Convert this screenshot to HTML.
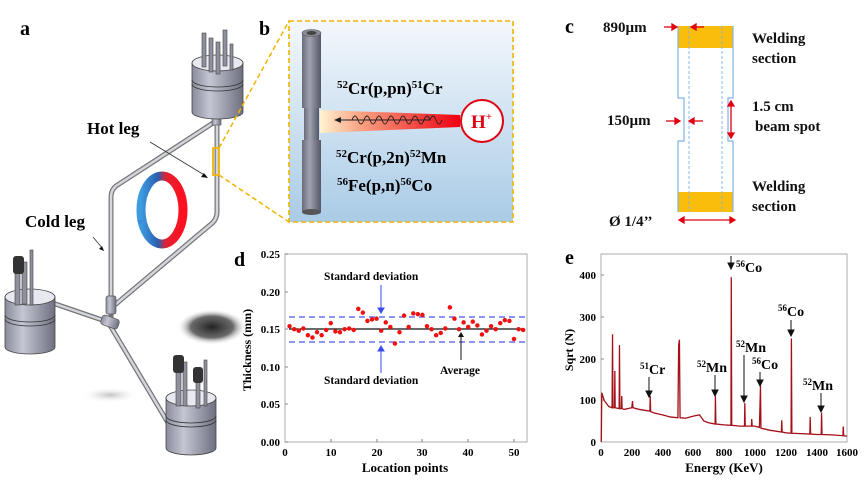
<!DOCTYPE html>
<html><head><meta charset="utf-8"><style>
html,body{margin:0;padding:0;background:#fff;}
svg{display:block;font-family:"Liberation Serif",serif;font-weight:bold;}
</style></head><body>
<svg width="866" height="481" viewBox="0 0 866 481" xmlns="http://www.w3.org/2000/svg">
<defs>
<linearGradient id="cyl" x1="0" x2="1" y1="0" y2="0"><stop offset="0" stop-color="#8a8c9c"/><stop offset="0.35" stop-color="#c4c6d2"/><stop offset="1" stop-color="#6e7080"/></linearGradient>
<linearGradient id="bbg" x1="0" x2="0" y1="0" y2="1"><stop offset="0" stop-color="#f4f8fc"/><stop offset="1" stop-color="#a9cbe6"/></linearGradient>
<linearGradient id="ring" x1="0" x2="1"><stop offset="0" stop-color="#3d9ce0"/><stop offset="0.4" stop-color="#2a5fb0"/><stop offset="0.6" stop-color="#e02030"/><stop offset="1" stop-color="#ff1020"/></linearGradient>
<linearGradient id="beam" x1="0" x2="1"><stop offset="0" stop-color="#fff3d0"/><stop offset="0.3" stop-color="#f8a080"/><stop offset="1" stop-color="#f00010"/></linearGradient>
<linearGradient id="tube" x1="0" x2="1"><stop offset="0" stop-color="#6a6c78"/><stop offset="0.4" stop-color="#a0a2b0"/><stop offset="1" stop-color="#555766"/></linearGradient>
<radialGradient id="shad"><stop offset="0" stop-color="#222"/><stop offset="0.6" stop-color="#444" stop-opacity="0.8"/><stop offset="1" stop-color="#fff" stop-opacity="0"/></radialGradient>
<radialGradient id="shad2"><stop offset="0" stop-color="#999" stop-opacity="0.6"/><stop offset="1" stop-color="#fff" stop-opacity="0"/></radialGradient>
</defs>

<!-- Panel a -->
<text x="20" y="35" font-size="20">a</text>
<ellipse cx="212" cy="327" rx="35" ry="18" fill="url(#shad)"/>
<ellipse cx="110" cy="395" rx="30" ry="8" fill="url(#shad2)"/>
<g fill="none" stroke-linecap="round">
<path d="M213 123 L116 186 Q111 190 111 197 L111 298" stroke="#777" stroke-width="5"/>
<path d="M213 123 L116 186 Q111 190 111 197 L111 298" stroke="#d4d6de" stroke-width="2.5"/>
<path d="M217 122 L217 212 Q217 220 210 225 L116 304" stroke="#777" stroke-width="5"/>
<path d="M217 122 L217 212 Q217 220 210 225 L116 304" stroke="#d4d6de" stroke-width="2.5"/>
<path d="M32 296 L108 322 L180 443" stroke="#777" stroke-width="5"/>
<path d="M32 296 L108 322 L180 443" stroke="#d4d6de" stroke-width="2.5"/>
<path d="M111 298 L111 322" stroke="#777" stroke-width="5"/>
</g>
<rect x="106" y="296" width="10" height="18" rx="2" fill="url(#cyl)" stroke="#555" stroke-width="0.7"/>
<rect x="101" y="317" width="18" height="10" rx="3" fill="url(#cyl)" stroke="#555" stroke-width="0.7" transform="rotate(20 110 322)"/>
<rect x="212" y="115" width="9" height="10" fill="url(#cyl)" stroke="#555" stroke-width="0.6"/>
<g stroke="#444" stroke-width="0.8">
<path d="M192 63 L192 112 A25.5 7 0 0 0 243 112 L243 63 Z" fill="url(#cyl)"/>
<ellipse cx="217.5" cy="63" rx="25.5" ry="8" fill="#e8e9f0"/>
<path d="M192 80 A25.5 7 0 0 0 243 80 M192 84 A25.5 7 0 0 0 243 84" fill="none" stroke="#333"/>
<path d="M5 297 L5 347 A25 7 0 0 0 55 347 L55 297 Z" fill="url(#cyl)"/>
<ellipse cx="30" cy="297" rx="25" ry="8" fill="#e8e9f0"/>
<path d="M5 315 A25 7 0 0 0 55 315 M5 319 A25 7 0 0 0 55 319" fill="none" stroke="#333"/>
<path d="M166 398 L166 448 A25 7 0 0 0 216 448 L216 398 Z" fill="url(#cyl)"/>
<ellipse cx="191" cy="398" rx="25" ry="8" fill="#e8e9f0"/>
<path d="M166 416 A25 7 0 0 0 216 416 M166 420 A25 7 0 0 0 216 420" fill="none" stroke="#333"/>
</g>
<g fill="#8e909e" stroke="#444" stroke-width="0.6">
<rect x="202" y="33" width="4" height="34"/><rect x="209" y="38" width="4" height="34"/><rect x="216" y="42" width="4" height="32"/><rect x="223" y="30" width="4" height="36"/><rect x="230" y="44" width="3" height="26"/>
<rect x="15" y="260" width="5" height="45"/><rect x="22" y="262" width="5" height="42"/><rect x="30" y="250" width="3" height="55"/>
<rect x="176" y="358" width="5" height="48"/><rect x="183" y="362" width="4" height="44"/><rect x="196" y="370" width="4" height="38"/><rect x="204" y="360" width="3" height="46"/>
</g>
<g fill="#333"><rect x="13" y="256" width="11" height="18" rx="3"/><rect x="173" y="355" width="11" height="18" rx="3"/><rect x="193" y="367" width="10" height="16" rx="3"/></g>
<ellipse cx="162" cy="210" rx="21" ry="34" fill="none" stroke="url(#ring)" stroke-width="9"/>
<path d="M137 220 l4 5 l4 -5" fill="#3d8ad8"/>
<text x="87" y="134" font-size="17">Hot leg</text>
<path d="M150 142 L206 176" stroke="#333" stroke-width="0.8"/><path d="M208 178 l-7 -1 l3 -4 z" fill="#111"/>
<text x="25" y="227" font-size="17">Cold leg</text>
<path d="M93 237 L103 249" stroke="#333" stroke-width="0.8"/><path d="M104 251 l-5 -2 l3 -3 z" fill="#111"/>
<rect x="213" y="148" width="6" height="27" fill="none" stroke="#f0b400" stroke-width="1.8"/>
<path d="M219 148 L289 21 M219 175 L289 222" stroke="#f0b400" stroke-width="1.5" stroke-dasharray="5 3"/>

<!-- Panel b -->
<text x="259" y="35" font-size="20">b</text>
<rect x="289" y="21" width="224" height="201" fill="url(#bbg)" stroke="#f0b400" stroke-width="1.6" stroke-dasharray="5 3"/>
<rect x="302" y="33" width="19" height="75" fill="url(#tube)"/>
<ellipse cx="311.5" cy="33" rx="9.5" ry="3.5" fill="#8a8c98" stroke="#555" stroke-width="0.6"/>
<ellipse cx="311.5" cy="33" rx="5" ry="2" fill="#444"/>
<rect x="304" y="108" width="15" height="32" fill="url(#tube)"/>
<rect x="302" y="140" width="19" height="72" fill="url(#tube)"/>
<ellipse cx="311.5" cy="212" rx="9.5" ry="3" fill="#555"/>
<path d="M320 110 L460 115 L460 127 L320 133 Z" fill="url(#beam)"/>
<circle cx="482" cy="121" r="21" fill="#fff" stroke="#e00010" stroke-width="2"/>
<text x="471" y="128" font-size="19" fill="#e00010">H<tspan font-size="11" dy="-8">+</tspan></text>
<path d="M430 120 q3 -8 6 0 q3 8 6 0 M352 120 q3 -8 6 0 q3 8 6 0 q3 -8 6 0 q3 8 6 0 q3 -8 6 0 q3 8 6 0 q3 -8 6 0 q3 8 6 0 q3 -8 6 0 q3 8 6 0 q3 -8 6 0 q3 8 6 0 q3 -8 6 0 L340 120" fill="none" stroke="#222" stroke-width="0.9"/>
<path d="M334 120 l7 -3 l0 6 z" fill="#222"/>
<g font-family="Liberation Serif,serif" font-size="17">
<text x="337" y="94"><tspan font-size="11" dy="-6">52</tspan><tspan dy="6">Cr(p,pn)</tspan><tspan font-size="11" dy="-6">51</tspan><tspan dy="6">Cr</tspan></text>
<text x="336" y="163"><tspan font-size="11" dy="-6">52</tspan><tspan dy="6">Cr(p,2n)</tspan><tspan font-size="11" dy="-6">52</tspan><tspan dy="6">Mn</tspan></text>
<text x="337" y="191"><tspan font-size="11" dy="-6">56</tspan><tspan dy="6">Fe(p,n)</tspan><tspan font-size="11" dy="-6">56</tspan><tspan dy="6">Co</tspan></text>
</g>

<!-- Panel c -->
<text x="565" y="33" font-size="20">c</text>
<rect x="678" y="26" width="55" height="22" fill="#fbbd0c"/>
<rect x="678" y="192" width="55" height="20" fill="#fbbd0c"/>
<path d="M678 26 L678 98 L684 98 L684 141 L678 141 L678 212 M733 26 L733 98 L728 98 L728 141 L733 141 L733 212" fill="none" stroke="#7eb4e6" stroke-width="1.2"/>
<path d="M689 26 V212 M722 26 V212" stroke="#7eb4e6" stroke-width="0.9" stroke-dasharray="3 2"/>
<g stroke="#e00010" stroke-width="1.3" fill="#e00010">
<path d="M664 27 H674"/><path d="M677 27 l-5 -3 v6z"/>
<path d="M704 27 H694"/><path d="M691 27 l5 -3 v6z"/>
<path d="M666 121 H677"/><path d="M680 121 l-5 -3 v6z"/>
<path d="M703 121 H692"/><path d="M689 121 l5 -3 v6z"/>
<path d="M731 104 V135"/><path d="M731 101 l-3 5 h6z"/><path d="M731 138 l-3 -5 h6z"/>
<path d="M683 220 H731"/><path d="M679 220 l5 -3 v6z"/><path d="M735 220 l-5 -3 v6z"/>
</g>
<g font-size="15" fill="#111">
<text x="603" y="32">890µm</text>
<text x="752" y="43">Welding</text><text x="752" y="63">section</text>
<text x="607" y="125">150µm</text>
<text x="752" y="111">1.5 cm</text><text x="755" y="131">beam spot</text>
<text x="752" y="191">Welding</text><text x="752" y="211">section</text>
<text x="609" y="226">Ø 1/4’’</text>
</g>

<!-- Panel d -->
<text x="234" y="266" font-size="20">d</text>
<rect x="285" y="254" width="242" height="188" fill="none" stroke="#999" stroke-width="0.8"/>
<g font-size="11" text-anchor="end">
<text x="280" y="258">0.25</text><text x="280" y="296">0.20</text><text x="280" y="333">0.15</text><text x="280" y="371">0.10</text><text x="280" y="408">0.05</text><text x="280" y="446">0.00</text>
</g>
<g stroke="#666" stroke-width="0.8">
<path d="M285 254 h3 M285 292 h3 M285 329 h3 M285 367 h3 M285 404 h3 M285 442 h3"/>
<path d="M331 442 v-3 M377 442 v-3 M422 442 v-3 M468 442 v-3 M514 442 v-3"/>
</g>
<g font-size="11" text-anchor="middle">
<text x="285" y="456">0</text><text x="331" y="456">10</text><text x="377" y="456">20</text><text x="422" y="456">30</text><text x="468" y="456">40</text><text x="514" y="456">50</text>
</g>
<text x="405" y="472" font-size="13" text-anchor="middle">Location points</text>
<text transform="translate(251 350) rotate(-90)" font-size="12" text-anchor="middle">Thickness (mm)</text>
<path d="M289 317 H527 M289 342 H527" stroke="#4a55ee" stroke-width="1.2" stroke-dasharray="6 4"/>
<path d="M289 329 H524" stroke="#111" stroke-width="1.2"/>
<g transform="translate(285 442) scale(4.58 -752)" stroke="#f01010" stroke-width="4.5" stroke-linecap="round" fill="none">
<path vector-effect="non-scaling-stroke" d="M1 .154h0M2 .150h0M3 .148h0M4 .151h0M5 .142h0M6 .139h0M7 .146h0M8 .142h0M9 .149h0M10 .158h0M11 .147h0M12 .146h0M13 .150h0M14 .151h0M15 .149h0M16 .177h0M17 .172h0M18 .161h0M19 .163h0M20 .164h0M21 .148h0M22 .159h0M23 .153h0M24 .131h0M25 .146h0M26 .168h0M27 .153h0M28 .171h0M29 .170h0M30 .169h0M31 .154h0M32 .150h0M33 .142h0M34 .145h0M35 .151h0M36 .179h0M37 .164h0M38 .150h0M39 .159h0M40 .153h0M41 .160h0M42 .155h0M43 .143h0M44 .148h0M45 .154h0M46 .150h0M47 .158h0M48 .162h0M49 .161h0M50 .137h0M51 .150h0M52 .149h0"/>
</g>
<g font-size="11.5">
<text x="324" y="280">Standard deviation</text>
<text x="324" y="384">Standard deviation</text>
<text x="440" y="374">Average</text>
</g>
<g stroke="#3a4cf0" stroke-width="1" fill="#3a4cf0">
<path d="M381 285 V309"/><path d="M381 313 l-3 -5 h6z"/>
<path d="M381 373 V350"/><path d="M381 346 l-3 5 h6z"/>
</g>
<path d="M461 360 V336" stroke="#111"/><path d="M461 332 l-3 5 h6z" fill="#111"/>

<!-- Panel e -->
<text x="565" y="264" font-size="20">e</text>
<rect x="601" y="254" width="246" height="188" fill="none" stroke="#999" stroke-width="0.8"/>
<g font-size="11" text-anchor="end">
<text x="596" y="279">400</text><text x="596" y="321">300</text><text x="596" y="363">200</text><text x="596" y="404">100</text><text x="596" y="446">0</text>
</g>
<g stroke="#666" stroke-width="0.8"><path d="M601 275 h3 M601 317 h3 M601 359 h3 M601 400 h3"/></g>
<g font-size="11" text-anchor="middle">
<text x="601" y="456">0</text><text x="632" y="456">200</text><text x="663" y="456">400</text><text x="693" y="456">600</text><text x="724" y="456">800</text><text x="755" y="456">1000</text><text x="786" y="456">1200</text><text x="817" y="456">1400</text><text x="847" y="456">1600</text>
</g>
<text x="724" y="472" font-size="13" text-anchor="middle">Energy (KeV)</text>
<text transform="translate(573 350) rotate(-90)" font-size="12" text-anchor="middle">Sqrt (N)</text>
<g transform="translate(601 442) scale(0.1538 -0.4175)" fill="none" stroke="#a31018">
<path vector-effect="non-scaling-stroke" stroke-width="1.3" d="M2 0 L5 118 L20 100 L50 85 L72 82 L75 258 L78 82 L88 82 L90 170 L92 82 L118 80 L120 232 L123 80 L133 80 L135 110 L137 80 L150 78 L200 82 L205 98 L208 82 L250 78 L300 75 L318 74 L320 110 L323 73 L340 70 L400 65 L450 60 L500 58 L505 232 L510 245 L514 58 L550 57 L600 62 L640 65 L670 50 L700 46 L742 43 L744 110 L747 43 L800 41 L845 40 L847 395 L850 40 L900 38 L933 38 L935 93 L938 38 L978 38 L980 55 L983 38 L1000 38 L1030 35 L1037 135 L1040 33 L1100 28 L1173 24 L1175 52 L1178 24 L1200 22 L1236 21 L1238 248 L1241 21 L1300 20 L1358 19 L1360 60 L1363 19 L1400 18 L1432 18 L1434 70 L1437 18 L1500 17 L1573 15 L1575 37 L1578 15 L1600 14"/>
</g>
<g font-size="14">
<text x="736" y="272"><tspan font-size="9" dy="-5">56</tspan><tspan dy="5">Co</tspan></text>
<text x="778" y="316"><tspan font-size="9" dy="-5">56</tspan><tspan dy="5">Co</tspan></text>
<text x="736" y="352"><tspan font-size="9" dy="-5">52</tspan><tspan dy="5">Mn</tspan></text>
<text x="752" y="369"><tspan font-size="9" dy="-5">56</tspan><tspan dy="5">Co</tspan></text>
<text x="640" y="374"><tspan font-size="9" dy="-5">51</tspan><tspan dy="5">Cr</tspan></text>
<text x="697" y="372"><tspan font-size="9" dy="-5">52</tspan><tspan dy="5">Mn</tspan></text>
<text x="803" y="390"><tspan font-size="9" dy="-5">52</tspan><tspan dy="5">Mn</tspan></text>
</g>
<g stroke="#111" stroke-width="1" fill="#111">
<path d="M731 256 V264"/><path d="M731 269 l-3 -6 h6z"/>
<path d="M791 320 V331"/><path d="M791 336 l-3 -6 h6z"/>
<path d="M744 355 V397"/><path d="M744 402 l-3 -6 h6z"/>
<path d="M760 372 V381"/><path d="M760 386 l-3 -6 h6z"/>
<path d="M649 377 V392"/><path d="M649 397 l-3 -6 h6z"/>
<path d="M715 375 V391"/><path d="M715 396 l-3 -6 h6z"/>
<path d="M821 393 V407"/><path d="M821 412 l-3 -6 h6z"/>
</g>
</svg>
</body></html>
